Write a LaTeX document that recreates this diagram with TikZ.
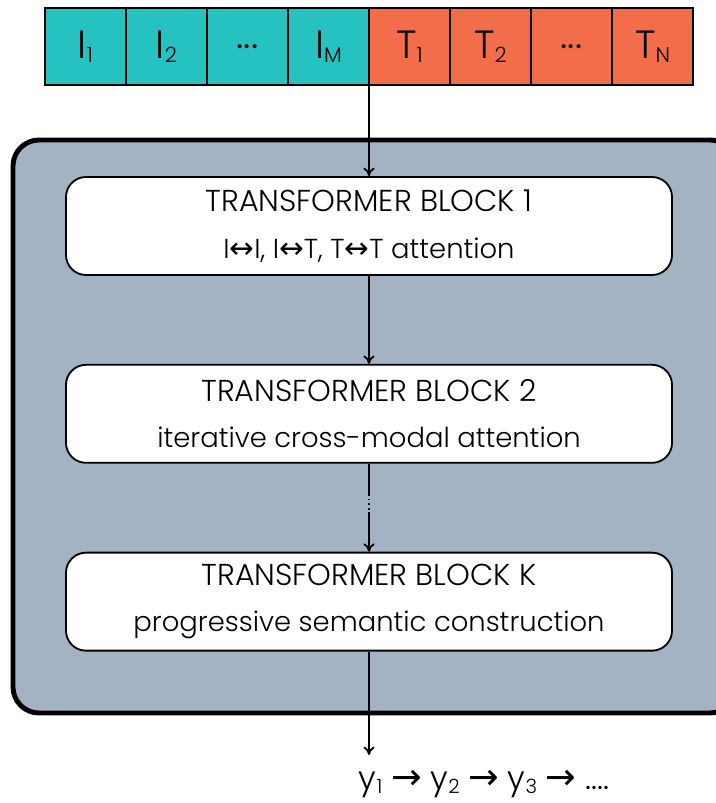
\documentclass[tikz,border=0pt]{standalone}
\usepackage{fontspec}
\setmainfont{Poppins Light}
\newfontfamily\symfont{DejaVu Sans}
\usepackage{xcolor}
\usetikzlibrary{positioning,arrows.meta}

\definecolor{imgteal}{HTML}{26C2C2}
\definecolor{txtorange}{HTML}{F26E4B}
\definecolor{stackgrey}{HTML}{A4B3C4}

\newcommand{\tsub}[1]{\raisebox{-3pt}{\fontsize{15}{15}\selectfont #1}}
\newcommand{\osub}[1]{\raisebox{-2.5pt}{\fontsize{14}{14}\selectfont #1}}
\newcommand{\lra}{{\symfont\fontsize{21}{21}\selectfont ↔}}
\newcommand{\ra}{{\symfont\fontsize{26}{26}\selectfont →}}
\newcommand{\blkline}[1]{{\fontsize{19.5}{19.5}\selectfont #1}}

\begin{document}
\begin{tikzpicture}[
			token/.style={draw, line width=1.5pt, rectangle, outer sep=0pt, minimum width=2.025cm, minimum height=1.925cm, font=\fontsize{28}{28}\selectfont},
			imgtok/.style={token, fill=imgteal},
			txttok/.style={token, fill=txtorange},
			block/.style={draw, line width=1.3pt, fill=white, rectangle, rounded corners=0.5cm, align=center, minimum width=15.15cm, minimum height=2.45cm, font=\fontsize{21.5}{33}\selectfont},
			stack/.style={draw, line width=3.5pt, fill=stackgrey, rounded corners=0.65cm},
			flow/.style={line width=1.3pt, -{To[length=6pt,width=8pt]}}
			]
			\useasboundingbox (0,0) rectangle (17.875,-20.075);
			
			%==================== 输入序列 ====================
			\node[imgtok] (i1) at (2.1375,-1.1625) {I\tsub{1}};
			\node[imgtok, right=0pt of i1] (i2) {I\tsub{2}};
			\node[imgtok, right=0pt of i2] (idots) {...};
			\node[imgtok, right=0pt of idots] (im) {I\tsub{M}};
			\node[txttok, right=0pt of im] (t1) {T\tsub{1}};
			\node[txttok, right=0pt of t1] (t2) {T\tsub{2}};
			\node[txttok, right=0pt of t2] (tdots) {...};
			\node[txttok, right=0pt of tdots] (tn) {T\tsub{N}};
			
			%==================== Transformer 堆叠 ====================
			\draw[stack] (0.325,-3.5) rectangle (18.4,-17.825);
			
			\node[block] (blk1) at (9.225,-5.65) {TRANSFORMER BLOCK 1\\\blkline{I\lra I, I\lra T, T\lra T attention}};
			\node[block, below=2.2cm of blk1] (blk2) {TRANSFORMER BLOCK 2\\\blkline{iterative cross-modal attention}};
			\node[block, below=2.2cm of blk2] (blk3) {TRANSFORMER BLOCK K\\\blkline{progressive semantic construction}};
			
			\coordinate (brka) at (9.225,-12.35);
			\coordinate (brkb) at (9.225,-12.8);
			
			\draw[flow] (im.south east) -- (blk1.north);
			\draw[flow] (blk1) -- (blk2);
			\draw[line width=1.3pt] (blk2.south) -- (brka);
			\draw[line width=1.3pt, dotted] (brka) -- (brkb);
			\draw[flow] (brkb) -- (blk3.north);
			
			%==================== 输出 ====================
			\coordinate (outend) at (9.225,-18.875);
			\node[anchor=west, font=\fontsize{23}{23}\selectfont] (outseq) at (8.85,-19.6) {y\osub{1} \ra{} y\osub{2} \ra{} y\osub{3} \ra{} ....};
			
			\draw[flow] (blk3.south) -- (outend);
			
		\end{tikzpicture}
\end{document}
